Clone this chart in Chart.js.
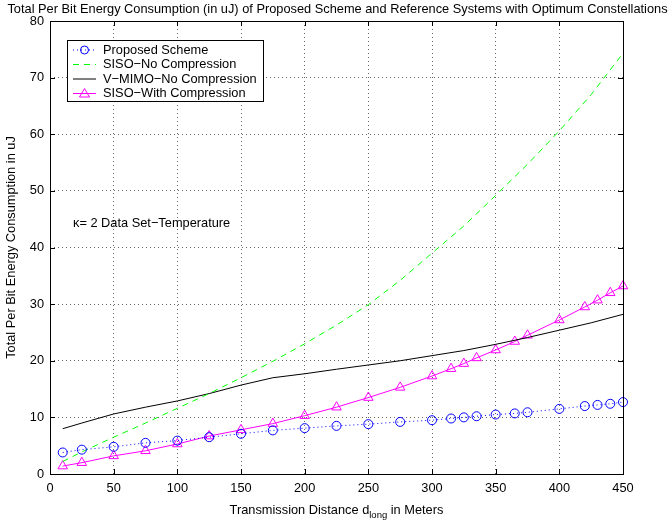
<!DOCTYPE html>
<html><head><meta charset="utf-8">
<script src="https://cdn.jsdelivr.net/npm/chart.js@4/dist/chart.umd.min.js"></script>
<style>html,body{margin:0;padding:0;background:#fff}</style>
</head><body>
<canvas id="c" width="668" height="527"></canvas>
<script>
const markerDistances = [10,25,50,75,100,125,150,175,200,225,250,275,300,315,325,335,350,365,375,400,420,430,440,450];
const proposedScheme = [3.8,4.3,4.8,5.5,5.9,6.5,7.1,7.7,8.1,8.5,8.8,9.2,9.5,9.8,10.0,10.2,10.5,10.7,10.9,11.5,12.0,12.2,12.4,12.7];
const sisoWithCompression = [1.4,2.0,3.2,4.1,5.3,6.7,7.8,8.9,10.3,11.8,13.5,15.3,17.3,18.6,19.5,20.5,21.9,23.4,24.5,27.2,29.5,30.7,32.0,33.2];
const curveDistances = [10,25,50,75,100,125,150,175,200,225,250,275,300,325,350,375,400,425,450];
const sisoNoCompression = [2.2,3.9,6.5,9.0,11.6,14.2,17.0,19.9,23.0,26.3,29.9,34.2,39.0,43.8,49.2,54.7,60.6,67.0,74.3];
const vmimoNoCompression = [8.0,9.0,10.6,11.8,12.9,14.2,15.7,17.0,17.7,18.5,19.25,20.0,20.9,21.8,22.9,24.1,25.4,26.7,28.2];
const xTicks = [0,50,100,150,200,250,300,350,400,450];
const yTicks = [0,10,20,30,40,50,60,70,80];
const seriesNames = ['Proposed Scheme','SISO\u2212No Compression','V\u2212MIMO\u2212No Compression','SISO\u2212With Compression'];
const titleText = 'Total Per Bit Energy Consumption (in uJ) of Proposed Scheme and Reference Systems with Optimum Constellations';
const yLabel = 'Total Per Bit Energy Consumption in uJ';
const annotationText = '\u03BA= 2 Data Set\u2212Temperature';

const FONT = "'Liberation Sans', Arial, Helvetica, sans-serif";
const FS = 12.8;
const pair = (xs, ys) => xs.map((x, i) => ({x, y: ys[i]}));

const decor = {
  id: 'decor',
  afterDraw(chart) {
    const ctx = chart.ctx, a = chart.chartArea;
    const xs = chart.scales.x, ys = chart.scales.y;
    ctx.save();
    // inward ticks
    ctx.strokeStyle = '#000'; ctx.lineWidth = 1; ctx.setLineDash([]);
    ctx.beginPath();
    xTicks.forEach(t => {
      const px = Math.round(xs.getPixelForValue(t)) + 0.5;
      ctx.moveTo(px, a.bottom); ctx.lineTo(px, a.bottom - 5);
      ctx.moveTo(px, a.top); ctx.lineTo(px, a.top + 5);
    });
    yTicks.forEach(t => {
      const py = Math.round(ys.getPixelForValue(t)) + 0.5;
      ctx.moveTo(a.left, py); ctx.lineTo(a.left + 5, py);
      ctx.moveTo(a.right, py); ctx.lineTo(a.right - 5, py);
    });
    ctx.stroke();
    ctx.strokeRect(Math.round(a.left)+0.5, Math.round(a.top)+0.5, Math.round(a.right-a.left), Math.round(a.bottom-a.top));
    // title
    ctx.fillStyle = '#000';
    ctx.font = FS + 'px ' + FONT;
    ctx.textAlign = 'center'; ctx.textBaseline = 'middle';
    ctx.fillText(titleText, (a.left + a.right) / 2 + 1, 9);
    // y label
    ctx.save();
    ctx.translate(11, (a.top + a.bottom) / 2);
    ctx.rotate(-Math.PI / 2);
    ctx.fillText(yLabel, 0, 0);
    ctx.restore();
    // x label with subscript
    const p1 = 'Transmission Distance d', sub = 'long', p3 = ' in Meters';
    ctx.font = FS + 'px ' + FONT;
    const w1 = ctx.measureText(p1).width, w3 = ctx.measureText(p3).width;
    ctx.font = '9.5px ' + FONT;
    const w2 = ctx.measureText(sub).width;
    let x0 = (a.left + a.right) / 2 - (w1 + w2 + w3) / 2;
    const yb = 514;
    ctx.textAlign = 'left'; ctx.textBaseline = 'alphabetic';
    ctx.font = FS + 'px ' + FONT; ctx.fillText(p1, x0, yb);
    ctx.font = '9.5px ' + FONT; ctx.fillText(sub, x0 + w1, yb + 4);
    ctx.font = FS + 'px ' + FONT; ctx.fillText(p3, x0 + w1 + w2, yb);
    // annotation
    ctx.textBaseline = 'middle';
    ctx.fillText(annotationText, 73, 223);
    // legend
    const lx = 67.5, ly = 40.5, lw = 196, lh = 61;
    ctx.fillStyle = '#fff'; ctx.fillRect(lx, ly, lw, lh);
    ctx.strokeStyle = '#000'; ctx.lineWidth = 1; ctx.strokeRect(lx, ly, lw, lh);
    const rows = [50, 64.5, 79, 93.5];
    const styles = [
      {c:'#0000ff', dash:[1,3], marker:'circle'},
      {c:'#00ff00', dash:[6,5], marker:null},
      {c:'#000000', dash:[], marker:null},
      {c:'#ff00ff', dash:[], marker:'triangle'}
    ];
    rows.forEach((ry, i) => {
      const s = styles[i];
      ctx.strokeStyle = s.c; ctx.setLineDash(s.dash); ctx.lineWidth = 1;
      ctx.beginPath(); ctx.moveTo(73, ry); ctx.lineTo(96, ry); ctx.stroke();
      ctx.setLineDash([]);
      if (s.marker === 'circle') { ctx.beginPath(); ctx.arc(84.5, ry, 4, 0, Math.PI*2); ctx.stroke(); }
      if (s.marker === 'triangle') {
        ctx.beginPath(); ctx.moveTo(84.5, ry - 5); ctx.lineTo(89.5, ry + 3.5); ctx.lineTo(79.5, ry + 3.5); ctx.closePath(); ctx.stroke();
      }
      ctx.fillStyle = '#000'; ctx.font = FS + 'px ' + FONT;
      ctx.textAlign = 'left'; ctx.textBaseline = 'middle';
      ctx.fillText(seriesNames[i], 103, ry);
    });
    ctx.restore();
  }
};

new Chart(document.getElementById('c'), {
  type: 'scatter',
  data: {
    datasets: [
      {label: seriesNames[0], data: pair(markerDistances, proposedScheme), showLine: true,
       borderColor: '#0000ff', borderDash: [1,3], borderWidth: 1, backgroundColor: 'rgba(0,0,0,0)',
       pointStyle: 'circle', pointRadius: 4.5, pointBorderWidth: 1, pointBorderColor: '#0000ff', clip: 10},
      {label: seriesNames[1], data: pair(curveDistances, sisoNoCompression), showLine: true,
       borderColor: '#00ff00', borderDash: [6,5], borderWidth: 1, pointRadius: 0, clip: 10},
      {label: seriesNames[2], data: pair(curveDistances, vmimoNoCompression), showLine: true,
       borderColor: '#000000', borderWidth: 1, pointRadius: 0, clip: 10},
      {label: seriesNames[3], data: pair(markerDistances, sisoWithCompression), showLine: true,
       borderColor: '#ff00ff', borderWidth: 1, backgroundColor: 'rgba(0,0,0,0)',
       pointStyle: 'triangle', pointRadius: 5.5, pointBorderWidth: 1, pointBorderColor: '#ff00ff', clip: 10}
    ]
  },
  options: {
    responsive: false, animation: false,
    layout: {padding: {left: 0, right: 45, top: 21, bottom: 23}},
    plugins: {legend: {display: false}, title: {display: false}, tooltip: {enabled: false}},
    elements: {line: {tension: 0}},
    scales: {
      x: {type: 'linear', min: 0, max: 450,
        afterFit: s => { s.height = 30; },
        afterBuildTicks: s => { s.ticks = xTicks.map(v => ({value: v})); },
        grid: {color: 'rgba(0,0,0,0.6)', drawTicks: false, lineWidth: 1},
        border: {display: false, dash: [1,3]},
        ticks: {color: '#000', font: {family: FONT, size: FS}, padding: 7, maxRotation: 0}
      },
      y: {type: 'linear', min: 0, max: 80,
        afterFit: s => { s.width = 50; },
        afterBuildTicks: s => { s.ticks = yTicks.map(v => ({value: v})); },
        grid: {color: 'rgba(0,0,0,0.6)', drawTicks: false, lineWidth: 1},
        border: {display: false, dash: [1,3]},
        ticks: {color: '#000', font: {family: FONT, size: FS}, padding: 6}
      }
    }
  },
  plugins: [decor]
});
</script>
</body></html>
